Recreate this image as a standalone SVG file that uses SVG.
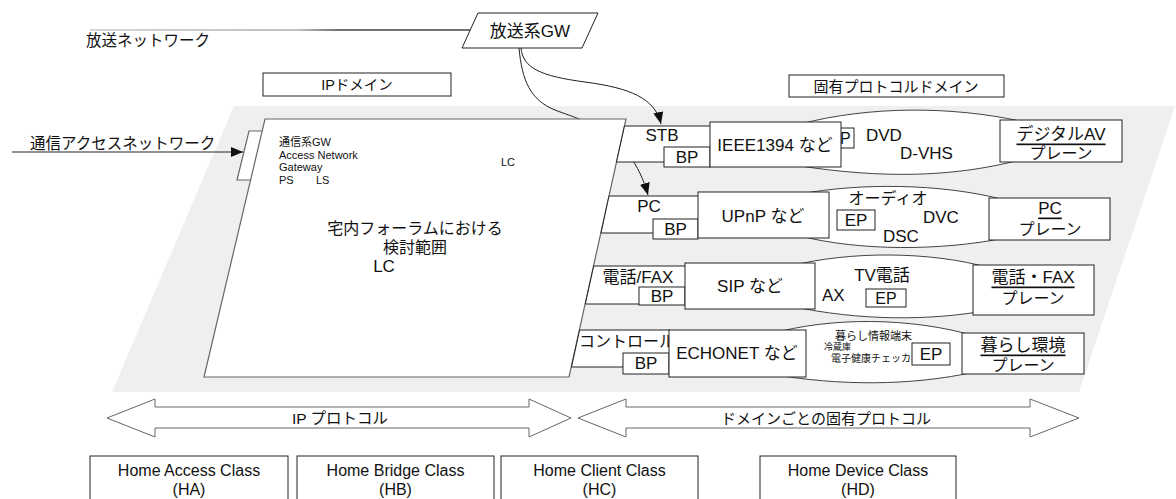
<svg xmlns="http://www.w3.org/2000/svg" width="1176" height="499" viewBox="0 0 1176 499">
<defs>
<style>
text{font-family:"Liberation Sans","Noto Sans CJK JP",sans-serif;fill:#111;dominant-baseline:central}
.box{fill:#fff;stroke:#222;stroke-width:1}
.lens{fill:#fff;stroke:#444;stroke-width:1}
.m{text-anchor:middle}
.f17{font-size:17px}
.f16{font-size:16px}
.f15{font-size:15px}
.f11{font-size:11px}
.u{text-decoration:underline}
.conn{fill:none;stroke:#222;stroke-width:1}
.big{fill:#fff;stroke:#666;stroke-width:1.2}
</style>
<marker id="ah" markerUnits="userSpaceOnUse" markerWidth="12" markerHeight="10" refX="12" refY="5" orient="auto">
<path d="M0,0 L12,5 L0,10 Z" fill="#111"/>
</marker>
<linearGradient id="lg" gradientUnits="userSpaceOnUse" x1="90" y1="0" x2="470" y2="0">
<stop offset="0" stop-color="#c8c8c8"/><stop offset="0.55" stop-color="#aaa"/><stop offset="0.65" stop-color="#444"/><stop offset="1" stop-color="#444"/>
</linearGradient>
</defs>

<g id="background">
<polygon points="234,106 1175,106 1079,392 112,392" fill="#efefef"/>
</g>

<g id="connectors">
<line x1="90" y1="30" x2="470" y2="30" stroke="url(#lg)" stroke-width="1.3"/>
<line x1="12" y1="152" x2="243" y2="152" class="conn" marker-end="url(#ah)"/>
<path d="M521,48 C523,68 540,76 585,82 C630,88 655,98 661,124" class="conn" marker-end="url(#ah)"/>
<path d="M519,48 C522,80 530,100 555,110 C580,120 630,130 648,195" class="conn" marker-end="url(#ah)"/>
</g>

<g id="broadcast-net">
<text x="86" y="40" style="font-size:15.5px">放送ネットワーク</text>
</g>

<g id="broadcast-gw">
<polygon points="478,13 598,13 582,48 462,48" class="box"/>
<text x="530" y="31" class="m f17">放送系GW</text>
</g>

<g id="ip-domain">
<rect x="263" y="73" width="188" height="23" class="box"/>
<text x="357" y="85" class="m" style="font-size:14.5px">IPドメイン</text>
</g>

<g id="proto-domain">
<rect x="789" y="75" width="215" height="22" class="box"/>
<text x="896" y="86" class="m f15">固有プロトコルドメイン</text>
</g>

<g id="comm-net">
<text x="30" y="143" style="font-size:15.5px">通信アクセスネットワーク</text>
<polygon points="249,131 263,131 252,180 237,180" class="big"/>
</g>

<g id="home-scope">
<polygon points="265,119 626,119 569,377 204,377" class="big"/>
<text x="279" y="142" class="f11">通信系GW</text>
<text x="279" y="155" class="f11">Access Network</text>
<text x="279" y="167" class="f11">Gateway</text>
<text x="279" y="180" class="f11">PS</text>
<text x="316" y="180" class="f11">LS</text>
<text x="501" y="162" class="f11">LC</text>
<text x="415" y="228" class="m f16">宅内フォーラムにおける</text>
<text x="415" y="247" class="m f16">検討範囲</text>
<text x="384" y="266" class="m f17">LC</text>
</g>

<g id="row-stb">
<polygon points="624.5,126 712,126 712,162 616.5,162" class="box"/>
<text x="662" y="135" class="m f17">STB</text>
<path d="M800,124 C870,106 950,106 1020,121 L1020,160 C950,178 880,178 800,166 Z" class="lens"/>
<rect x="826" y="128" width="28" height="20" class="box"/>
<text x="840" y="138" class="m f16">EP</text>
<text x="866" y="135" class="f17">DVD</text>
<text x="900" y="153" class="f17">D-VHS</text>
<rect x="664" y="147" width="46" height="20" class="box"/>
<text x="687" y="157" class="m f17">BP</text>
<rect x="710" y="122" width="131" height="45" class="box"/>
<text x="775" y="145" class="m f17">IEEE1394 など</text>
<rect x="1000" y="120" width="122" height="42" class="box"/>
<text x="1061" y="134" class="m f17 u">デジタルAV</text>
<text x="1061" y="153" class="m f16">プレーン</text>
</g>

<g id="row-pc">
<polygon points="609,196 700,196 700,233 601,233" class="box"/>
<text x="649" y="206" class="m f17">PC</text>
<path d="M800,194 C860,183 940,183 1005,200 L1005,238 C940,251 860,251 800,236 Z" class="lens"/>
<text x="888" y="198" class="m f16">オーディオ</text>
<rect x="837" y="210" width="38" height="20" class="box"/>
<text x="856" y="220" class="m f17">EP</text>
<text x="923" y="217" class="f17">DVC</text>
<text x="883" y="236" class="f17">DSC</text>
<rect x="653" y="219" width="45" height="20" class="box"/>
<text x="675.5" y="229" class="m f17">BP</text>
<rect x="698" y="192" width="131" height="46" class="box"/>
<text x="763" y="216" class="m f17">UPnP など</text>
<rect x="989" y="198" width="121" height="42" class="box"/>
<text x="1050" y="208" class="m f17 u">PC</text>
<text x="1050" y="229" class="m f16">プレーン</text>
</g>

<g id="row-phone">
<polygon points="593.7,266 686,266 686,304 585.3,304" class="box"/>
<text x="638" y="277" class="m f17">電話/FAX</text>
<path d="M790,266 C850,251 930,251 990,268 L990,310 C930,321 860,321 790,306 Z" class="lens"/>
<text x="882" y="275" class="m f17">TV電話</text>
<text x="822" y="295" class="f17">AX</text>
<rect x="866" y="289" width="40" height="18" class="box"/>
<text x="886" y="298" class="m f16">EP</text>
<rect x="639" y="287" width="46" height="18" class="box"/>
<text x="662" y="296" class="m f17">BP</text>
<rect x="685" y="263" width="130" height="46" class="box"/>
<text x="750" y="286" class="m f17">SIP など</text>
<rect x="973" y="265" width="121" height="50" class="box"/>
<text x="1033" y="277" class="m f17 u">電話・FAX</text>
<text x="1033" y="298" class="m f16">プレーン</text>
</g>

<g id="row-control">
<polygon points="579.6,330 670,330 670,367 571.5,367" class="box"/>
<text x="579" y="341" class="f16">コントロール</text>
<path d="M770,334 C830,317 910,317 975,336 L975,372 C910,386 840,386 770,374 Z" class="lens"/>
<text x="835" y="336" class="f11">暮らし情報端末</text>
<text x="824" y="347" style="font-size:9px">冷蔵庫</text>
<text x="831" y="358" style="font-size:10px">電子健康チェッカ</text>
<rect x="912" y="343" width="38" height="22" class="box"/>
<text x="931" y="354" class="m f17">EP</text>
<rect x="623" y="353" width="46" height="21" class="box"/>
<text x="646" y="363" class="m f17">BP</text>
<rect x="669" y="330" width="137" height="47" class="box"/>
<text x="737" y="353" class="m f17">ECHONET など</text>
<rect x="962" y="333" width="122" height="41" class="box"/>
<text x="1023" y="345" class="m f17 u">暮らし環境</text>
<text x="1023" y="365" class="m f16">プレーン</text>
</g>

<g id="ip-protocol">
<polygon points="107,418 155,399 155,407 529,407 529,399 571,418 529,437 529,428 155,428 155,437" fill="#fff" stroke="#666" stroke-width="1"/>
<text x="340" y="418" class="m" style="font-size:15.5px">IP プロトコル</text>
</g>

<g id="domain-protocol">
<polygon points="578,418 626,399 626,407 1030,407 1030,399 1079,418 1030,437 1030,428 626,428 626,437" fill="#fff" stroke="#666" stroke-width="1"/>
<text x="826" y="418" class="m f15">ドメインごとの固有プロトコル</text>
</g>

<g id="class-ha">
<rect x="90" y="456" width="198" height="60" class="box"/>
<text x="189" y="470" class="m f16">Home Access Class</text>
<text x="189" y="489" class="m f16">(HA)</text>
</g>
<g id="class-hb">
<rect x="297" y="456" width="197" height="60" class="box"/>
<text x="395.5" y="470" class="m f16">Home Bridge Class</text>
<text x="395.5" y="489" class="m f16">(HB)</text>
</g>
<g id="class-hc">
<rect x="501" y="456" width="197" height="60" class="box"/>
<text x="599.5" y="470" class="m f16">Home Client Class</text>
<text x="599.5" y="489" class="m f16">(HC)</text>
</g>
<g id="class-hd">
<rect x="760" y="456" width="196" height="60" class="box"/>
<text x="858" y="470" class="m f16">Home Device Class</text>
<text x="858" y="489" class="m f16">(HD)</text>
</g>
</svg>
